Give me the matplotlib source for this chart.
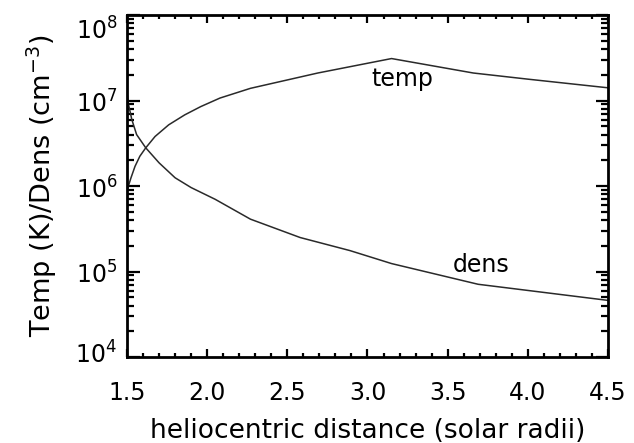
import numpy as np
import matplotlib
matplotlib.use("Agg")
import matplotlib.pyplot as plt
import matplotlib.ticker as mtick
import matplotlib.transforms as mtrans

# temperature (K) and density (cm^-3) vs heliocentric distance
r_temp = [1.505, 1.525, 1.55, 1.58, 1.617, 1.675, 1.76, 1.86, 1.96, 2.08, 2.27, 2.69, 3.15, 3.66, 4.00, 4.50]
temp = [9.5e5, 1.25e6, 1.7e6, 2.23e6, 2.8e6, 3.8e6, 5.2e6, 6.8e6, 8.5e6, 1.07e7, 1.39e7, 2.1e7, 3.1e7, 2.1e7, 1.78e7, 1.41e7]

r_dens = [1.50, 1.508, 1.53, 1.56, 1.617, 1.70, 1.80, 1.90, 2.05, 2.27, 2.58, 2.89, 3.15, 3.69, 4.10, 4.50]
dens = [1.25e7, 9.3e6, 6.0e6, 4.0e6, 2.8e6, 1.87e6, 1.25e6, 9.6e5, 7.0e5, 4.1e5, 2.5e5, 1.76e5, 1.24e5, 7.1e4, 5.7e4, 4.6e4]

xticks = [1.5, 2.0, 2.5, 3.0, 3.5, 4.0, 4.5]
xticklabels = ["1.5", "2.0", "2.5", "3.0", "3.5", "4.0", "4.5"]
yticks = [1e4, 1e5, 1e6, 1e7, 1e8]
yticklabels = [r"$10^{4}$", r"$10^{5}$", r"$10^{6}$", r"$10^{7}$", r"$10^{8}$"]

fig = plt.figure(figsize=(6.34, 4.43), dpi=100)
ax = fig.add_axes([0.2003, 0.194, 0.7587, 0.772])

ax.plot(r_temp, temp, color="#2a2a2a", lw=1.1)
ax.plot(r_dens, dens, color="#2a2a2a", lw=1.1)

ax.set_yscale("log")
ax.set_xlim(1.5, 4.5)
ax.set_ylim(1e4, 1e8)

ax.text(3.22, 10**7.166, "temp", fontsize=17, ha="center", va="baseline")
ax.text(3.706, 10**4.997, "dens", fontsize=17, ha="center", va="baseline")

ax.set_xticks(xticks)
ax.set_xticklabels(xticklabels)
ax.xaxis.set_minor_locator(mtick.MultipleLocator(0.1))
ax.set_yticks(yticks)
ax.set_yticklabels(yticklabels)
ax.yaxis.set_minor_locator(mtick.LogLocator(base=10, subs=np.arange(2, 10), numticks=20))
ax.yaxis.set_minor_formatter(mtick.NullFormatter())

ax.tick_params(which="both", direction="in", top=True, right=True, width=1.6, color="black")
ax.tick_params(axis="x", which="major", length=6, pad=17.5, labelsize=17)
ax.tick_params(axis="x", which="minor", length=3)
ax.tick_params(axis="y", which="major", length=9, pad=7, labelsize=17)
ax.tick_params(axis="y", which="minor", length=5)

for s in ax.spines.values():
    s.set_linewidth(2)

# end labels sit inside the axis range, like the IDL layout
shifts = [5, -1, -1, -1, -13]
for lab, dy in zip(ax.get_yticklabels(), shifts):
    lab.set_transform(lab.get_transform() + mtrans.ScaledTranslation(0, dy / 100, fig.dpi_scale_trans))

ax.set_xlabel("heliocentric distance (solar radii)", fontsize=19, labelpad=9)
ax.set_ylabel(r"Temp (K)/Dens (cm$^{-3}$)", fontsize=19.5, labelpad=12)

fig.savefig("out.png", dpi=100)
